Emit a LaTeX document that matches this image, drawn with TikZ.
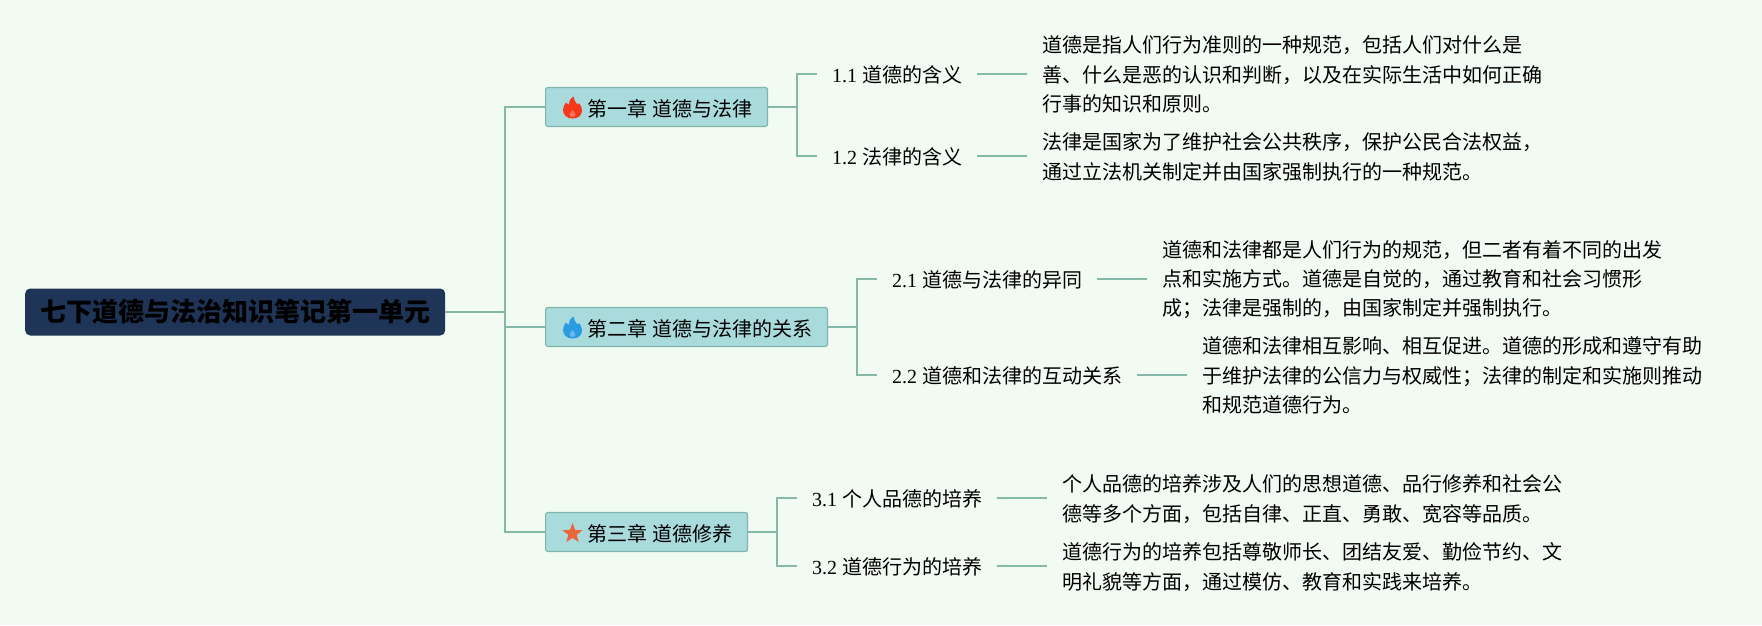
\documentclass[tikz,border=0pt]{standalone}
\usepackage{fontspec}
\setmainfont{Liberation Serif}
\newfontfamily\cjk{Noto Sans CJK SC}
\usetikzlibrary{shapes.geometric}
\definecolor{pagebg}{HTML}{F2FBF2}
\definecolor{linkcol}{HTML}{86B8A8}
\definecolor{chapfill}{HTML}{A9DBDD}
\definecolor{chapedge}{HTML}{7FB5AA}
\definecolor{rootfill}{HTML}{1E3557}
\definecolor{flamered}{HTML}{F5371A}
\definecolor{flameblue}{HTML}{2A9BE0}
\definecolor{staror}{HTML}{E8663A}
\tikzset{
	link/.style={draw=linkcol,line width=1.2pt},
	rootbox/.style={fill=rootfill,rounded corners=5pt,minimum width=420pt,minimum height=47pt,inner sep=0pt,anchor=west,font=\fontsize{26}{29}\selectfont\cjk\bfseries,text=black},
	chapbox/.style={draw=chapedge,fill=chapfill,line width=1.2pt,rounded corners=2.5pt,minimum height=39pt,inner xsep=15.5pt,inner ysep=0pt,anchor=west,text height=21pt,text depth=3pt,font=\fontsize{20}{29}\selectfont},
	secnode/.style={inner xsep=15pt,inner ysep=0pt,anchor=west,text height=19pt,text depth=3pt,font=\fontsize{20}{29}\selectfont},
	detnode/.style={inner xsep=15pt,inner ysep=0pt,anchor=west,align=left,font=\fontsize{20}{29.2}\selectfont\cjk},
	flame/.pic={
		\fill[pic actions] (0,-11) .. controls (-6,-11) and (-9.5,-7) .. (-9.5,-2.5)
			.. controls (-9.5,0.5) and (-8,3) .. (-6.5,5)
			.. controls (-5.8,3.8) and (-5,3) .. (-4,2.5)
			.. controls (-4,6) and (-2,9) .. (1,11)
			.. controls (1,7.5) and (3,5.5) .. (5,3)
			.. controls (5.5,3.5) and (6,4) .. (6.5,4.5)
			.. controls (8.5,2) and (9.5,-0.5) .. (9.5,-3)
			.. controls (9.5,-7.5) and (6,-11) .. (0,-11) -- cycle;
		\fill[white,opacity=0.3] (0,-9.5) .. controls (-2,-9.5) and (-3.5,-8) .. (-3,-6.5)
			.. controls (-2.5,-5) and (-1,-4.5) .. (0,-2.5)
			.. controls (1,-4.5) and (2.5,-5) .. (3,-6.5)
			.. controls (3.5,-8) and (2,-9.5) .. (0,-9.5) -- cycle;
	},
}
\begin{document}
\begin{tikzpicture}[x=1pt,y=1pt]
	\useasboundingbox[fill=pagebg] (0,0) rectangle (1762,-625);
	% root and chapters
	\node[rootbox] (root) at (25,-312) {七下道德与法治知识笔记第一单元};
	\node[chapbox] (chap1) at (545,-107) {\hspace*{26.5pt}{\cjk 第一章 道德与法律}};
	\node[chapbox] (chap2) at (545,-327) {\hspace*{26.5pt}{\cjk 第二章 道德与法律的关系}};
	\node[chapbox] (chap3) at (545,-532) {\hspace*{26.5pt}{\cjk 第三章 道德修养}};
	\pic[flamered] at (572.5,-107.5) {flame};
	\pic[flameblue] at (572.5,-327.5) {flame};
	\node[star,star points=5,star point ratio=2.4,fill=staror,minimum size=21pt,inner sep=0pt] (star3) at (572.5,-533.5) {};
	% sections
	\node[secnode] (sec11) at (817,-74) {1.1 {\cjk 道德的含义}};
	\node[secnode] (sec12) at (817,-156) {1.2 {\cjk 法律的含义}};
	\node[secnode] (sec21) at (877,-279) {2.1 {\cjk 道德与法律的异同}};
	\node[secnode] (sec22) at (877,-375) {2.2 {\cjk 道德和法律的互动关系}};
	\node[secnode] (sec31) at (797,-498) {3.1 {\cjk 个人品德的培养}};
	\node[secnode] (sec32) at (797,-566) {3.2 {\cjk 道德行为的培养}};
	% details
	\node[detnode] (det11) at (1027,-74.5) {道德是指人们行为准则的一种规范，包括人们对什么是\\善、什么是恶的认识和判断，以及在实际生活中如何正确\\行事的知识和原则。};
	\node[detnode] (det12) at (1027,-157) {法律是国家为了维护社会公共秩序，保护公民合法权益，\\通过立法机关制定并由国家强制执行的一种规范。};
	\node[detnode] (det21) at (1147,-279.5) {道德和法律都是人们行为的规范，但二者有着不同的出发\\点和实施方式。道德是自觉的，通过教育和社会习惯形\\成；法律是强制的，由国家制定并强制执行。};
	\node[detnode] (det22) at (1187,-375.5) {道德和法律相互影响、相互促进。道德的形成和遵守有助\\于维护法律的公信力与权威性；法律的制定和实施则推动\\和规范道德行为。};
	\node[detnode] (det31) at (1047,-499) {个人品德的培养涉及人们的思想道德、品行修养和社会公\\德等多个方面，包括自律、正直、勇敢、宽容等品质。};
	\node[detnode] (det32) at (1047,-567) {道德行为的培养包括尊敬师长、团结友爱、勤俭节约、文\\明礼貌等方面，通过模仿、教育和实践来培养。};
	% junctions
	\coordinate (trunk) at (505,-312);
	\coordinate (fork1) at (797,-107);
	\coordinate (fork2) at (857,-327);
	\coordinate (fork3) at (777,-532);
	% connectors
	\draw[link] (root.east) -- (trunk);
	\draw[link] (chap1.west) -| (trunk);
	\draw[link] (chap2.west) -| (trunk);
	\draw[link] (chap3.west) -| (trunk);
	\draw[link] (chap1.east) -- (fork1);
	\draw[link] (chap2.east) -- (fork2);
	\draw[link] (chap3.east) -- (fork3);
	\draw[link] (fork1) |- (sec11.west);
	\draw[link] (fork1) |- (sec12.west);
	\draw[link] (fork2) |- (sec21.west);
	\draw[link] (fork2) |- (sec22.west);
	\draw[link] (fork3) |- (sec31.west);
	\draw[link] (fork3) |- (sec32.west);
	\draw[link] (sec11.east) -- (sec11.east -| det11.west);
	\draw[link] (sec12.east) -- (sec12.east -| det12.west);
	\draw[link] (sec21.east) -- (sec21.east -| det21.west);
	\draw[link] (sec22.east) -- (sec22.east -| det22.west);
	\draw[link] (sec31.east) -- (sec31.east -| det31.west);
	\draw[link] (sec32.east) -- (sec32.east -| det32.west);
\end{tikzpicture}
\end{document}
